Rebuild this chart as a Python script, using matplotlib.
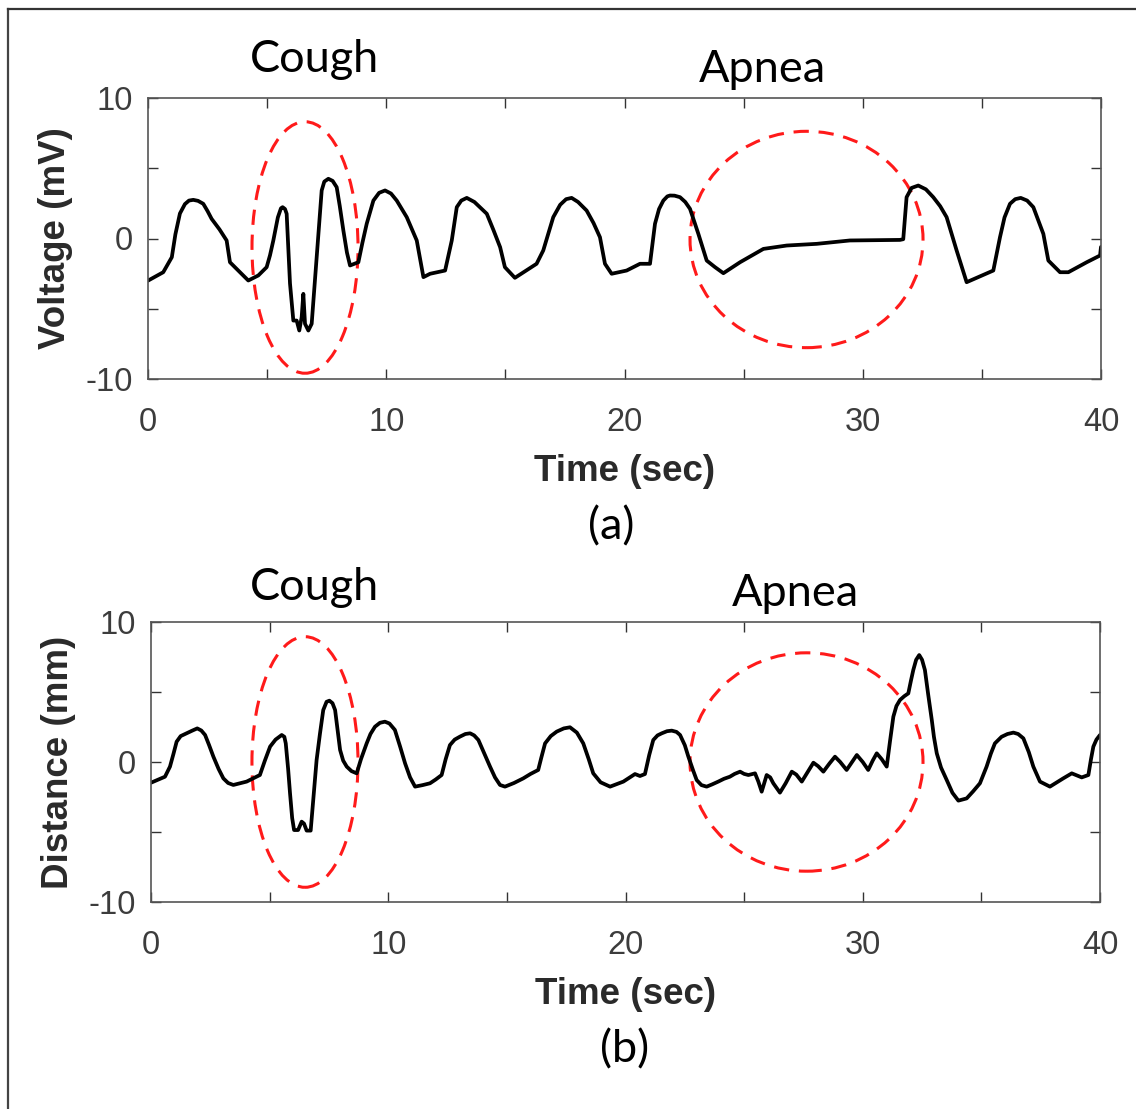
import matplotlib
matplotlib.use("Agg")
import matplotlib.pyplot as plt
from matplotlib.patches import Ellipse
from matplotlib.lines import Line2D

# ---- data ----
# panel (a): ECG-type voltage trace
t_a = [0.0, 0.64, 1.0, 1.15, 1.34, 1.55, 1.72, 1.90, 2.1, 2.32,
       2.5, 2.67, 3.0, 3.30, 3.44, 3.65, 3.86, 4.21, 4.63, 4.98,
       5.12, 5.26, 5.45, 5.58, 5.65, 5.75, 5.82, 5.96, 6.10, 6.24,
       6.35, 6.45, 6.52, 6.59, 6.73, 6.87, 7.08, 7.29, 7.40, 7.57,
       7.75, 7.92, 8.05, 8.20, 8.35, 8.48, 8.83, 9.0, 9.18, 9.46,
       9.7, 9.95, 10.2, 10.44, 10.86, 11.28, 11.56, 11.84, 12.47, 12.75,
       12.96, 13.15, 13.38, 13.7, 14.22, 14.5, 14.78, 14.98, 15.40, 16.31,
       16.59, 17.01, 17.3, 17.55, 17.78, 18.05, 18.41, 18.7, 18.97, 19.18,
       19.46, 20.09, 20.65, 21.07, 21.28, 21.45, 21.63, 21.8, 21.91, 22.1,
       22.33, 22.55, 22.75, 23.10, 23.45, 23.80, 24.15, 24.85, 25.83, 26.81,
       28.07, 29.46, 31.56, 31.70, 31.84, 32.05, 32.33, 32.65, 32.96, 33.25,
       33.52, 33.94, 34.36, 35.48, 35.76, 35.95, 36.18, 36.4, 36.63, 36.9,
       37.16, 37.58, 37.79, 38.28, 38.63, 39.40, 39.96, 40.0]
v_a = [-3.0, -2.4, -1.33, 0.3, 1.78, 2.45, 2.7, 2.75, 2.68, 2.47,
       1.95, 1.40, 0.65, -0.14, -1.69, -2.05, -2.40, -2.99, -2.63, -2.04,
       -1.2, -0.14, 1.5, 2.15, 2.23, 2.1, 1.76, -3.2, -5.84, -5.84,
       -6.55, -5.6, -3.94, -6.07, -6.55, -6.07, -1.33, 3.42, 4.05, 4.25,
       4.1, 3.65, 2.3, 0.57, -1.0, -1.92, -1.69, -0.3, 1.05, 2.70,
       3.25, 3.42, 3.2, 2.70, 1.52, -0.14, -2.75, -2.51, -2.28, -0.14,
       2.23, 2.7, 2.89, 2.6, 1.76, 0.6, -0.62, -2.04, -2.80, -1.80,
       -0.85, 1.52, 2.4, 2.8, 2.89, 2.6, 1.99, 1.1, 0.09, -1.80,
       -2.51, -2.28, -1.80, -1.80, 1.05, 2.1, 2.70, 3.0, 3.06, 3.05,
       2.94, 2.6, 2.11, 0.33, -1.57, -2.04, -2.47, -1.69, -0.74, -0.50,
       -0.38, -0.14, -0.10, -0.05, 2.94, 3.6, 3.77, 3.5, 2.94, 2.3,
       1.52, -0.85, -3.11, -2.28, 0.09, 1.5, 2.47, 2.8, 2.89, 2.7,
       2.23, 0.33, -1.57, -2.40, -2.40, -1.69, -1.21, -0.6]

# panel (b): radar distance trace
t_b = [0.0, 0.59, 0.80, 0.95, 1.08, 1.25, 1.50, 1.75, 1.95, 2.12,
       2.28, 2.45, 2.63, 2.85, 3.05, 3.25, 3.47, 4.03, 4.59, 4.80,
       5.02, 5.25, 5.51, 5.62, 5.68, 5.78, 5.86, 5.95, 6.03, 6.20,
       6.35, 6.45, 6.56, 6.73, 6.85, 6.98, 7.12, 7.26, 7.40, 7.52,
       7.65, 7.76, 7.87, 7.97, 8.10, 8.25, 8.45, 8.67, 8.85, 9.09,
       9.25, 9.44, 9.65, 9.86, 10.05, 10.28, 10.50, 10.71, 10.92, 11.13,
       11.45, 11.76, 12.00, 12.25, 12.42, 12.60, 12.80, 13.02, 13.25, 13.45,
       13.62, 13.80, 14.05, 14.29, 14.50, 14.71, 14.92, 15.30, 15.69, 16.00,
       16.32, 16.45, 16.61, 16.85, 17.10, 17.40, 17.66, 17.95, 18.22, 18.45,
       18.64, 18.95, 19.35, 19.91, 20.40, 20.61, 20.82, 21.00, 21.17, 21.35,
       21.53, 21.75, 21.95, 22.15, 22.30, 22.50, 22.65, 22.85, 23.00, 23.20,
       23.42, 23.65, 23.91, 24.15, 24.40, 24.60, 24.83, 25.00, 25.18, 25.46,
       25.60, 25.74, 25.85, 25.95, 26.10, 26.23, 26.51, 26.75, 27.01, 27.20,
       27.43, 27.65, 27.92, 28.12, 28.34, 28.60, 28.83, 29.05, 29.32, 29.55,
       29.75, 30.00, 30.23, 30.42, 30.59, 30.80, 31.01, 31.15, 31.29, 31.42,
       31.57, 31.75, 31.92, 32.03, 32.13, 32.25, 32.38, 32.50, 32.62, 32.76,
       32.91, 33.00, 33.12, 33.30, 33.54, 33.78, 34.03, 34.38, 34.65, 34.94,
       35.22, 35.40, 35.57, 35.85, 36.10, 36.35, 36.55, 36.77, 37.00, 37.19,
       37.47, 37.89, 38.45, 38.81, 39.23, 39.51, 39.62, 39.72, 39.85, 40.0]
v_b = [-1.48, -1.05, -0.33, 0.6, 1.45, 1.85, 2.05, 2.25, 2.40, 2.25,
       1.93, 1.2, 0.38, -0.5, -1.17, -1.5, -1.64, -1.40, -0.93, 0.1,
       1.10, 1.6, 1.93, 1.8, 1.33, -0.5, -2.24, -4.0, -4.86, -4.86,
       -4.26, -4.4, -4.90, -4.90, -2.5, 0.14, 2.0, 3.71, 4.3, 4.38,
       4.2, 3.71, 2.2, 0.86, 0.1, -0.33, -0.65, -0.81, 0.2, 1.33,
       2.0, 2.52, 2.8, 2.88, 2.75, 2.29, 1.1, -0.10, -1.1, -1.76,
       -1.65, -1.52, -1.25, -0.93, 0.2, 1.21, 1.6, 1.81, 2.0, 2.05,
       1.9, 1.57, 0.6, -0.33, -1.1, -1.64, -1.76, -1.5, -1.17, -0.85,
       -0.57, 0.3, 1.33, 1.85, 2.17, 2.4, 2.48, 2.1, 1.33, 0.2,
       -0.81, -1.45, -1.76, -1.40, -0.86, -1.0, -0.86, 0.5, 1.57, 1.9,
       2.05, 2.2, 2.24, 2.15, 1.93, 1.2, 0.38, -0.6, -1.29, -1.65,
       -1.76, -1.6, -1.40, -1.2, -1.05, -0.85, -0.69, -0.85, -0.93, -0.81,
       -1.4, -2.12, -1.5, -0.93, -1.1, -1.52, -2.19, -1.52, -0.69, -0.9,
       -1.40, -0.8, -0.05, -0.3, -0.69, -0.1, 0.38, 0.0, -0.57, 0.0,
       0.50, 0.0, -0.57, 0.1, 0.62, 0.2, -0.33, 1.5, 3.24, 4.0,
       4.43, 4.7, 4.90, 5.8, 6.57, 7.3, 7.64, 7.3, 6.57, 4.8,
       3.0, 1.8, 0.62, -0.4, -1.29, -2.2, -2.76, -2.60, -2.1, -1.52,
       -0.33, 0.6, 1.33, 1.8, 2.0, 2.10, 2.0, 1.69, 0.7, -0.33,
       -1.40, -1.76, -1.17, -0.81, -1.10, -0.93, 0.2, 1.10, 1.6, 1.93]

xticks = [0, 5, 10, 15, 20, 25, 30, 35, 40]
xticklabels = ["0", "", "10", "", "20", "", "30", "", "40"]
yticks = [-10, -5, 0, 5, 10]
yticklabels = ["-10", "", "0", "", "10"]

ylabels = ["Voltage (mV)", "Distance (mm)"]
panel_tags = ["(a)", "(b)"]
event_labels = ["Cough", "Apnea"]

# ellipses: (x centre, y centre, width, height) in data units
cough_ell = [(6.59, -0.64, 4.45, 17.9), (6.49, 0.0, 4.47, 17.9)]
apnea_ell = [(27.64, -0.07, 9.78, 15.4), (27.63, 0.0, 9.82, 15.6)]

W, H = 1136, 1109
fig = plt.figure(figsize=(W / 100, H / 100), dpi=100)
fig.patch.set_facecolor("white")

# figure frame (top and left edges only)
fig.add_artist(Line2D([8 / W, 8 / W], [0, 1 - 9 / H], color="#444444", lw=1.6,
                      transform=fig.transFigure))
fig.add_artist(Line2D([8 / W, 1], [1 - 9 / H, 1 - 9 / H], color="#333333", lw=1.6,
                      transform=fig.transFigure))

axes_px = [(148, 98, 1101, 379), (151, 622, 1100, 902)]
data = [(t_a, v_a), (t_b, v_b)]
annot_pos = [((315, 60), (762, 70), (611, 527)), ((315, 587), (795, 593), (625, 1050))]

tick_font = "Liberation Sans"
calib = "Lato"

for i in range(2):
    l, tp, r, b = axes_px[i]
    ax = fig.add_axes([l / W, 1 - b / H, (r - l) / W, (b - tp) / H])
    t, v = data[i]
    ax.plot(t, v, color="black", lw=2.7, solid_joinstyle="round", solid_capstyle="round")
    ax.set_xlim(0, 40)
    ax.set_ylim(-10, 10)
    ax.set_xticks(xticks)
    ax.set_xticklabels(xticklabels)
    ax.set_yticks(yticks)
    ax.set_yticklabels(yticklabels)
    ax.tick_params(direction="in", length=7, width=1.0, color="#333333",
                   top=True, right=True, labelsize=23.5, labelcolor="#3c3c3c")
    ax.tick_params(axis="x", pad=20)
    ax.tick_params(axis="y", pad=11)
    for lab in ax.get_xticklabels() + ax.get_yticklabels():
        lab.set_fontfamily(tick_font)
    for s in ax.spines.values():
        s.set_color("#555555")
        s.set_linewidth(1.2)
    ax.set_xlabel("Time (sec)", fontsize=26.5, fontweight="bold", family=tick_font,
                  color="#2a2a2a", labelpad=12)
    ax.set_ylabel(ylabels[i], fontsize=26.5, fontweight="bold", family=tick_font,
                  color="#2a2a2a", labelpad=9)

    for (cx, cy, w, h) in (cough_ell[i], apnea_ell[i]):
        e = Ellipse((cx, cy), w, h, fill=False, edgecolor="#ff1a1a", lw=2.2,
                    linestyle=(0, (5.0, 3.2)))
        ax.add_patch(e)

    (cxp, cyp), (axp, ayp), (tx, ty) = annot_pos[i]
    fig.text(cxp / W, 1 - cyp / H, event_labels[0], fontsize=32.5, family=calib,
             ha="center", va="center", color="black")
    fig.text(axp / W, 1 - ayp / H, event_labels[1], fontsize=32.5, family=calib,
             ha="center", va="center", color="black")
    fig.text(tx / W, 1 - ty / H, panel_tags[i], fontsize=32.5, family=calib,
             ha="center", va="center", color="black")

fig.savefig("out.png", dpi=100, facecolor="white")
